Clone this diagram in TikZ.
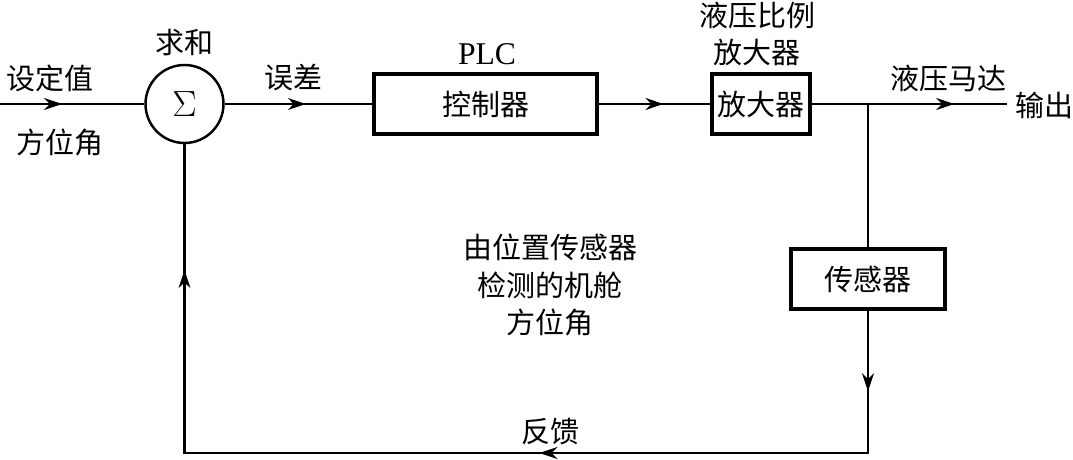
\documentclass[tikz,border=0pt]{standalone}
\usepackage{fontspec}
\usepackage{tikz}
\usetikzlibrary{arrows.meta,positioning,decorations.markings}
\setmainfont{Liberation Serif}
\newfontfamily\cjk{Noto Sans CJK SC}

\begin{document}
\begin{tikzpicture}[
    font=\cjk\fontsize{16.5}{21.5}\selectfont,
    blockbox/.style={rectangle, draw=black, line width=2pt, minimum height=1.2cm, inner sep=0pt},
    sumnode/.style={circle, draw=black, line width=1.4pt, minimum size=1.56cm, inner sep=0pt},
    lbl/.style={inner sep=0pt, align=center},
    sig/.style={draw=black, line width=1.2pt},
    midarrow/.style={postaction={decorate, decoration={markings, mark=at position #1 with {\arrow{Stealth[length=3.6mm,width=2.4mm]}}}}}
]
\useasboundingbox (0,0) rectangle (21.46,9.18);

% Nodes
\coordinate (in) at (0,7.10);
\node[sumnode] (sum) at (3.69,7.10) {\fontsize{22}{24}\selectfont$\Sigma$};
\node[blockbox, minimum width=4.46cm] (plc) at (9.71,7.10) {控制器};
\node[blockbox, minimum width=1.96cm] (amp) at (15.22,7.10) {放大器};
\coordinate (branch) at (17.36,7.10);
\coordinate (out) at (20.14,7.10);
\node[blockbox, minimum width=3.08cm] (sensor) at (17.36,3.60) {传感器};
\coordinate (cr) at (17.36,0.12);
\coordinate (cl) at (3.69,0.12);

% Labels
\node[lbl] (sumlbl) at (3.69,8.32) {求和};
\node[lbl] (setlbl) at (1.0,7.62) {设定值};
\node[lbl] (anglbl) at (1.2,6.34) {方位角};
\node[lbl] (errlbl) at (5.86,7.62) {误差};
\node[lbl, font=\fontsize{18}{20}\selectfont] (plclbl) at (9.74,8.10) {PLC};
\node[lbl] (amplbl) at (15.14,8.50) {液压比例\\放大器};
\node[lbl] (motlbl) at (18.96,7.62) {液压马达};
\node[lbl] (outlbl) at (20.88,7.08) {输出};
\node[lbl] (meslbl) at (11.0,3.48) {由位置传感器\\检测的机舱\\方位角};
\node[lbl] (fblbl) at (11.0,0.54) {反馈};

% Connections
\draw[sig, midarrow=0.43] (in) -- (sum);
\draw[sig, midarrow=0.55] (sum) -- (plc);
\draw[sig, midarrow=0.58] (plc) -- (amp);
\draw[sig, midarrow=0.73] (amp) -- (out);
\draw[sig] (branch) -- (sensor);
\draw[sig, line join=miter, midarrow=0.071, midarrow=0.415, midarrow=0.889] (sensor) -- (cr) -- (cl) -- (sum);

\end{tikzpicture}
\end{document}
